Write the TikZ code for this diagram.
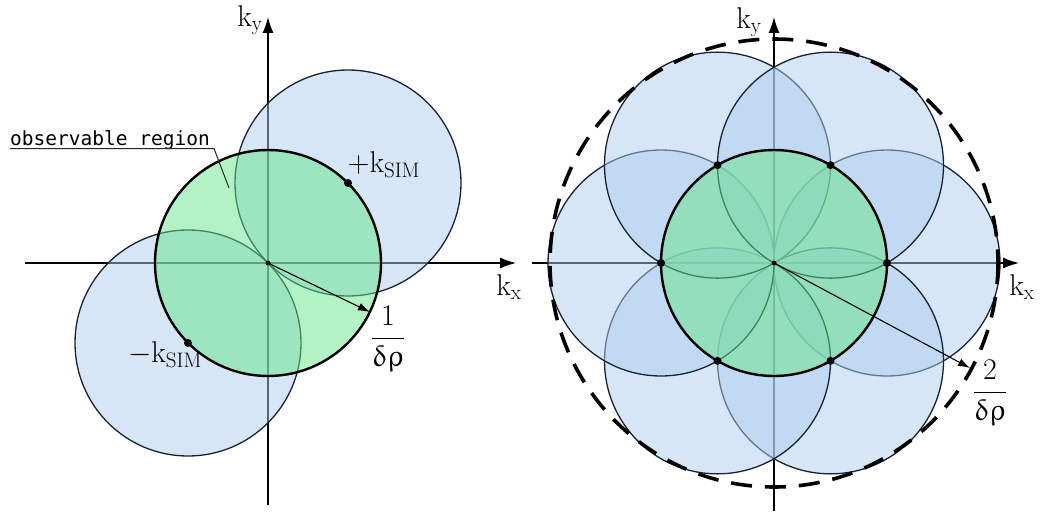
\RequirePackage{fix-cm}
\documentclass[tikz,border=0pt]{standalone}
\usepackage{amsmath}
\usepackage{fontspec}
\usepackage{upgreek}
\newfontfamily\obsfont{DejaVu Sans Mono}
\usetikzlibrary{arrows.meta,calc}
\definecolor{bluefill}{RGB}{173,205,239}
\definecolor{blueline}{RGB}{24,34,54}
\definecolor{greenfill}{RGB}{101,229,137}
\tikzset{
  axis/.style={line width=1.3pt, -{Latex[length=16pt,width=11pt]}},
  radarrow/.style={line width=1.1pt, -{Latex[length=12pt,width=8pt]}},
  bluecirc/.style={fill=bluefill, fill opacity=0.5, draw=blueline, line width=1.3pt},
  greencirc/.style={fill=greenfill, fill opacity=0.5, draw=black, line width=2.4pt},
  dashcirc/.style={draw=black, line width=3.6pt, dash pattern=on 21pt off 13pt},
  bigdot/.style={circle, fill=black, inner sep=0pt, minimum size=8pt},
  smalldot/.style={circle, fill=black, inner sep=0pt, minimum size=5pt},
  lbl/.style={inner sep=0pt, font=\fontsize{30}{36}\selectfont},
  obs/.style={inner sep=0pt, font=\obsfont\fontsize{19.5}{23}\selectfont},
  leader/.style={line width=1pt, draw=black!85}
}
\begin{document}
\begin{tikzpicture}[x=1pt,y=-1pt]
\useasboundingbox (0,0) rectangle (1046,511);
% ---------------- left diagram ----------------
\coordinate (O1) at (268,263);
\coordinate (x1s) at (25,263);
\coordinate (x1e) at (516,263);
\coordinate (y1s) at (268,505);
\coordinate (y1e) at (268,17);
\draw[axis] (x1s) -- (x1e);
\draw[axis] (y1s) -- (y1e);
\draw[bluecirc] (348,183) circle[radius=113];
\draw[bluecirc] (188,343) circle[radius=113];
\draw[greencirc] (O1) circle[radius=113];
\coordinate (A1) at (370,312);
\draw[radarrow] (O1) -- (A1);
\node[bigdot] (kp) at (348,183) {};
\node[bigdot] (km) at (188,343) {};
\node[smalldot] (c1) at (O1) {};
\node[lbl] (kpl) at (384,165) {$+\mathrm{k}_{\mathrm{SIM}}$};
\node[lbl] (kml) at (165,355) {$-\mathrm{k}_{\mathrm{SIM}}$};
\node[lbl, anchor=base] (f1) at (388,345.5) {$\dfrac{1}{\updelta\uprho}$};
\node[lbl] (kx1) at (509,287) {$\mathrm{k}_{\mathrm{x}}$};
\node[lbl] (ky1) at (250,20) {$\mathrm{k}_{\mathrm{y}}$};
\node[obs, anchor=base west] (obs) at (10,145) {observable region};
\coordinate (lead) at (229,188);
\draw[leader] ([yshift=-3.5pt]obs.base west) -- ([xshift=4pt,yshift=-3.5pt]obs.base east) -- (lead);
% ---------------- right diagram ----------------
\coordinate (O2) at (774,263);
\coordinate (x2s) at (532,263);
\coordinate (x2e) at (1019,263);
\coordinate (y2s) at (774,511);
\coordinate (y2e) at (774,17);
\draw[axis] (x2s) -- (x2e);
\draw[axis] (y2s) -- (y2e);
\foreach \i in {0,...,5} {
  \draw[bluecirc] ([shift={(\i*60:113)}]O2) circle[radius=113];
}
\draw[greencirc] (O2) circle[radius=113];
\draw[dashcirc] (O2) circle[radius=224];
\coordinate (A2) at (970,368);
\draw[radarrow] (O2) -- (A2);
\foreach \i in {0,...,5} {
  \node[bigdot] (q\i) at ([shift={(\i*60:113)}]O2) {};
}
\node[smalldot] (c2) at (O2) {};
\node[lbl, anchor=base] (f2) at (990,399.5) {$\dfrac{2}{\updelta\uprho}$};
\node[lbl] (kx2) at (1022,287) {$\mathrm{k}_{\mathrm{x}}$};
\node[lbl] (ky2) at (749,22) {$\mathrm{k}_{\mathrm{y}}$};
\end{tikzpicture}
\end{document}
